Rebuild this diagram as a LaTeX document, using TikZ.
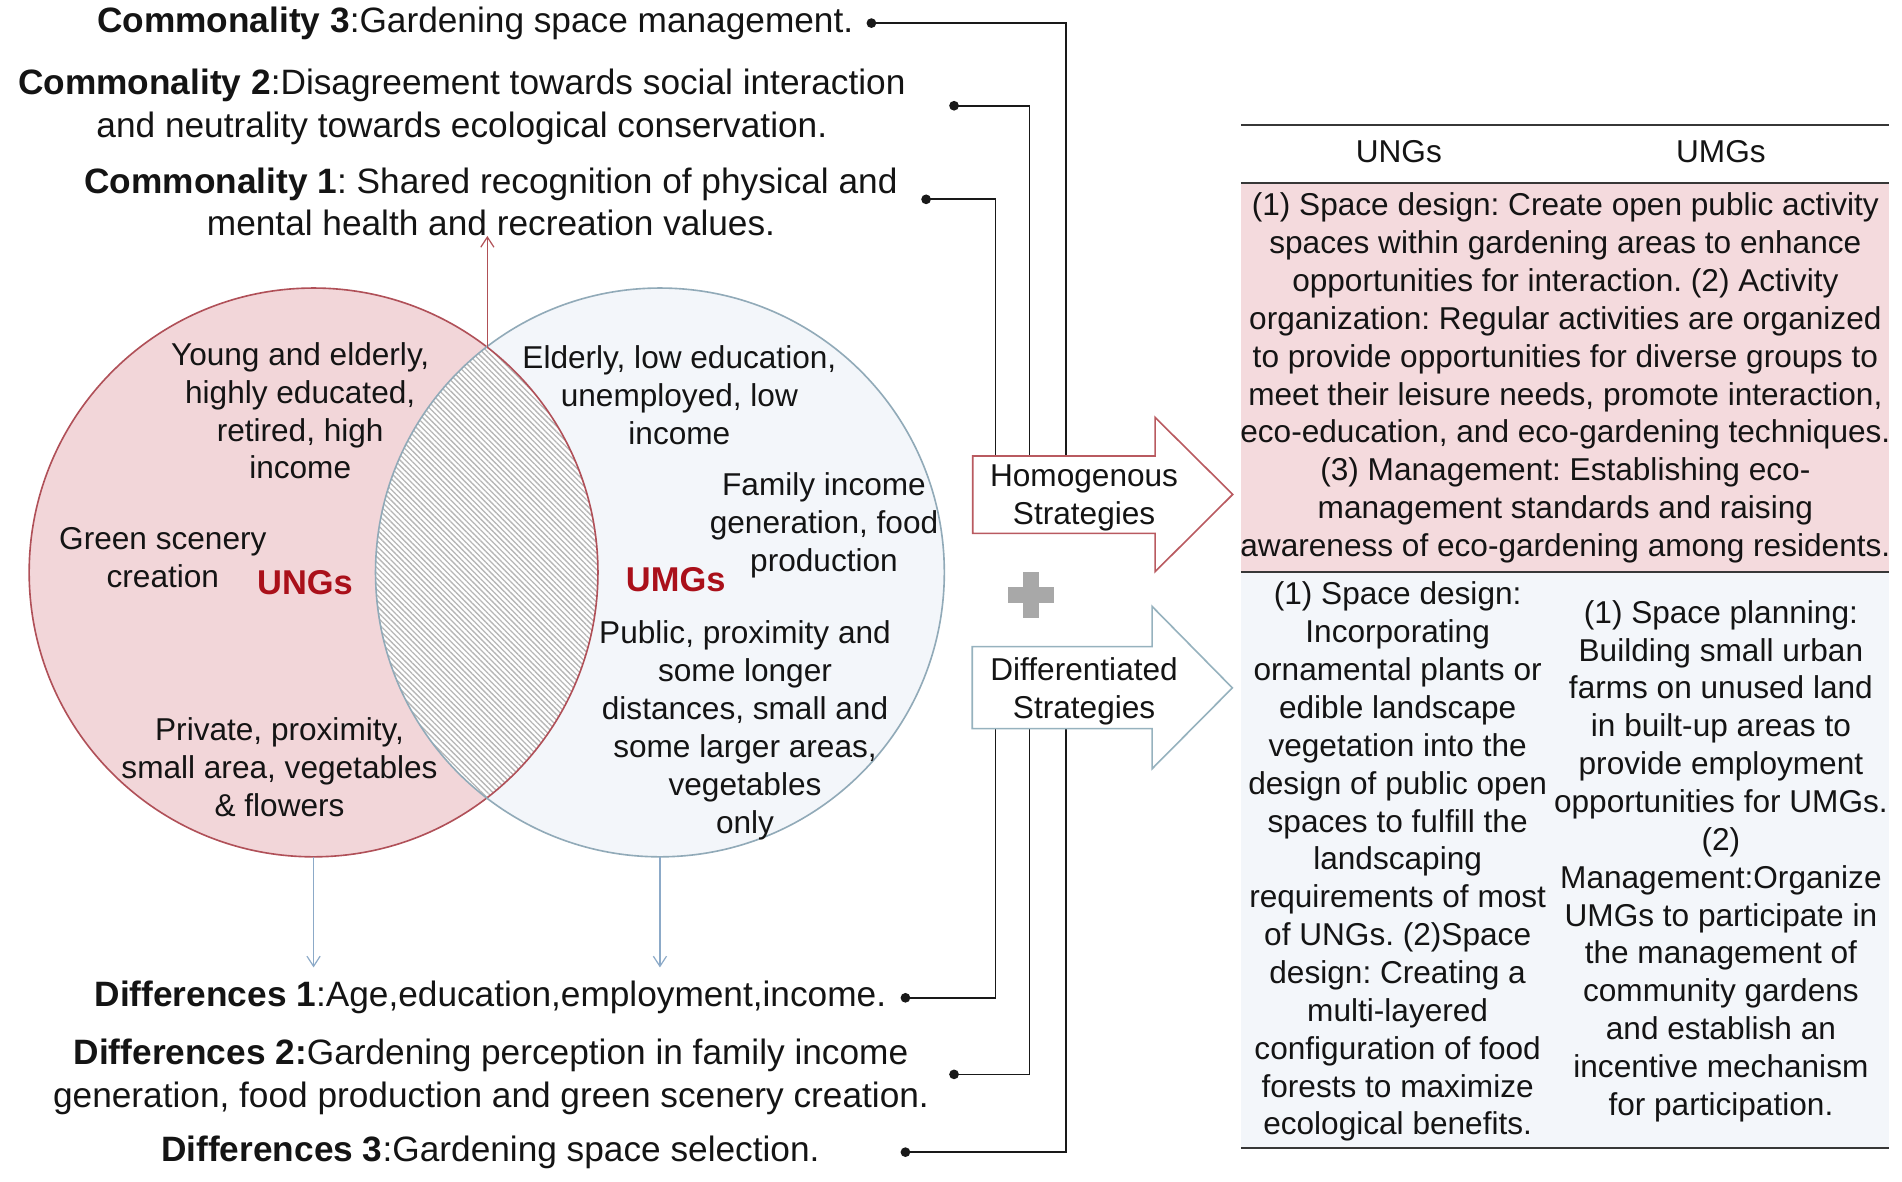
\documentclass[tikz,border=0pt]{standalone}
\usepackage{fontspec}
\setmainfont{Liberation Sans}
\usetikzlibrary{arrows.meta,patterns.meta}
\definecolor{pinkfill}{RGB}{242,214,217}
\definecolor{pinkline}{RGB}{176,80,88}
\definecolor{bluefill}{RGB}{243,246,250}
\definecolor{blueline}{RGB}{145,170,184}
\definecolor{tabpink}{RGB}{244,218,221}
\definecolor{tabblue}{RGB}{243,246,250}
\definecolor{redtxt}{RGB}{170,16,26}
\definecolor{downcol}{RGB}{140,170,200}
\definecolor{upcol}{RGB}{176,80,86}
\definecolor{rulecol}{RGB}{55,55,55}
\definecolor{pluscol}{RGB}{168,168,168}
\definecolor{txt}{RGB}{20,20,20}
\definecolor{homline}{RGB}{185,90,96}
\definecolor{difline}{RGB}{150,178,190}
\definecolor{hatchcol}{RGB}{182,182,182}
\frenchspacing
\begin{document}
\begin{tikzpicture}[x=0.6pt,y=-0.6pt,
  every node/.style={inner sep=0pt,outer sep=0pt,text=txt},
  big/.style={font=\fontsize{17.4}{21}\selectfont,align=center},
  norm/.style={font=\fontsize{15.6}{18.69}\selectfont,align=center},
  grp/.style={font=\fontsize{17}{20}\selectfont\bfseries,text=redtxt},
  conn/.style={draw=black!90,line width=0.85pt},
  dotmark/.style={fill=black!90},
  vennL/.style={circle,minimum size=280.8pt,fill=pinkfill},
  vennR/.style={circle,minimum size=280.8pt,fill=bluefill},
  downarr/.style={draw=downcol,line width=0.6pt,-{Straight Barb[length=5pt,width=6.5pt]}},
  uparr/.style={draw=upcol,line width=0.6pt,-{Straight Barb[length=5pt,width=6.5pt]}},
  tabrule/.style={draw=rulecol,line width=1pt},
  stratbox/.style={fill=white,line width=0.8pt}
]
\useasboundingbox (0,0) rectangle (1565,972);

% ---------- Venn diagram ----------
\node[vennL] (ung) at (258,471) {};
\node[vennR] (umg) at (543,471) {};
\begin{scope}
  \clip (258,471) circle[radius=234];
  \fill[white] (543,471) circle[radius=234];
  \fill[pattern={Lines[angle=-45,distance=1.9pt,line width=0.65pt]},pattern color=hatchcol] (543,471) circle[radius=234];
\end{scope}
\draw[pinkline,line width=0.8pt] (ung.center) circle[radius=234];
\draw[blueline,line width=0.8pt] (umg.center) circle[radius=234];

\node[norm] (yae) at (247,338) {Young and elderly,\\ highly educated,\\ retired, high\\ income};
\node[norm] (elo) at (559,325) {Elderly, low education,\\ unemployed, low\\ income};
\node[norm] (fam) at (678,432) {Family income\\ generation, food\\ production};
\node[norm] (grn) at (134,459) {Green scenery\\ creation};
\node[grp] (ungl) at (251,479) {UNGs};
\node[grp] (umgl) at (556,477) {UMGs};
\node[norm] (pub) at (613,601) {Public, proximity and\\ some longer\\ distances, small and\\ some larger areas,\\ vegetables\\ only};
\node[norm] (prv) at (230,631.5) {Private, proximity,\\ small area, vegetables\\ \& flowers};

% ---------- top texts ----------
\node[big] (c3) at (391,19) {\textbf{Commonality 3}:Gardening space management.};
\node[big] (c2) at (380,88) {\textbf{Commonality 2}:Disagreement towards social interaction\\ and neutrality towards ecological conservation.};
\node[big] (c1) at (404,166) {\textbf{Commonality 1}: Shared recognition of physical and\\ mental health and recreation values.};

% ---------- bottom texts ----------
\node[big] (d1) at (403.5,821) {\textbf{Differences 1}:Age,education,employment,income.};
\node[big] (d2) at (404,886) {\textbf{Differences 2:}Gardening perception in family income\\ generation, food production and green scenery creation.};
\node[big] (d3) at (403.5,948) {\textbf{Differences 3}:Gardening space selection.};

% ---------- arrows from Venn ----------
\coordinate (lenstop) at (401,286);
\draw[uparr] (lenstop) -- (lenstop |- c1.south);
\coordinate (ungtip) at (258,796);
\coordinate (umgtip) at (543,796);
\draw[downarr] (ung.south) -- (ungtip);
\draw[downarr] (umg.south) -- (umgtip);

% ---------- connector dots ----------
\coordinate (c3d) at (717,19);
\coordinate (c2d) at (785,87);
\coordinate (c1d) at (762,164);
\coordinate (d1d) at (745,821);
\coordinate (d2d) at (785,884);
\coordinate (d3d) at (745,948);
\coordinate (ht1) at (819,375.2);
\coordinate (ht2) at (847,375.2);
\coordinate (ht3) at (877,375.2);
\coordinate (db1) at (819,599.5);
\coordinate (db2) at (847,599.5);
\coordinate (db3) at (877,599.5);
\draw[conn] (c3d) -| (ht3);
\draw[conn] (c2d) -| (ht2);
\draw[conn] (c1d) -| (ht1);
\draw[conn] (d1d) -| (db1);
\draw[conn] (d2d) -| (db2);
\draw[conn] (d3d) -| (db3);
\foreach \p in {c3d,c2d,c1d,d1d,d2d,d3d} \fill[dotmark] (\p) circle[radius=4];

% ---------- strategy arrows ----------
\draw[stratbox,draw=homline] (800.4,375.2) -- (950.4,375.2) -- (950.4,343.4) -- (1014.3,406.8) -- (950.4,470.4) -- (950.4,438.9) -- (800.4,438.9) -- cycle;
\node[norm] (hom) at (892,410) {Homogenous\\ Strategies};
\draw[stratbox,draw=difline] (800,532) -- (948,532) -- (948,499) -- (1014,566) -- (948,632.5) -- (948,599.5) -- (800,599.5) -- cycle;
\node[norm] (dif) at (892,569) {Differentiated\\ Strategies};
\fill[pluscol] (829.4,483.3) rectangle (867.4,495.9);
\fill[pluscol] (842.1,470.6) rectangle (854.7,508.6);

% ---------- table ----------
\fill[tabpink] (1021,151) rectangle (1554,470);
\fill[tabblue] (1021,471) rectangle (1554,944);
\draw[tabrule] (1021,102.5) -- (1554,102.5);
\draw[tabrule] (1021,150.5) -- (1554,150.5);
\draw[tabrule] (1021,470.5) -- (1554,470.5);
\draw[tabrule] (1021,944.5) -- (1554,944.5);
\node[norm] (hu) at (1151,125) {UNGs};
\node[norm] (hm) at (1416,125) {UMGs};
\node[norm] (pk) at (1288,311) {(1) Space design: Create open public activity\\ spaces within gardening areas to enhance\\ opportunities for interaction. (2) Activity\\ organization: Regular activities are organized\\ to provide opportunities for diverse groups to\\ meet their leisure needs, promote interaction,\\ eco-education, and eco-gardening techniques.\\ (3) Management: Establishing eco-\\ management standards and raising\\ awareness of eco-gardening among residents.};
\node[norm] (lc) at (1150,709) {(1) Space design:\\ Incorporating\\ ornamental plants or\\ edible landscape\\ vegetation into the\\ design of public open\\ spaces to fulfill the\\ landscaping\\ requirements of most\\ of UNGs. (2)Space\\ design: Creating a\\ multi-layered\\ configuration of food\\ forests to maximize\\ ecological benefits.};
\node[norm] (rc) at (1416,708.5) {(1) Space planning:\\ Building small urban\\ farms on unused land\\ in built-up areas to\\ provide employment\\ opportunities for UMGs.\\ (2)\\ Management:Organize\\ UMGs to participate in\\ the management of\\ community gardens\\ and establish an\\ incentive mechanism\\ for participation.};
\end{tikzpicture}
\end{document}
